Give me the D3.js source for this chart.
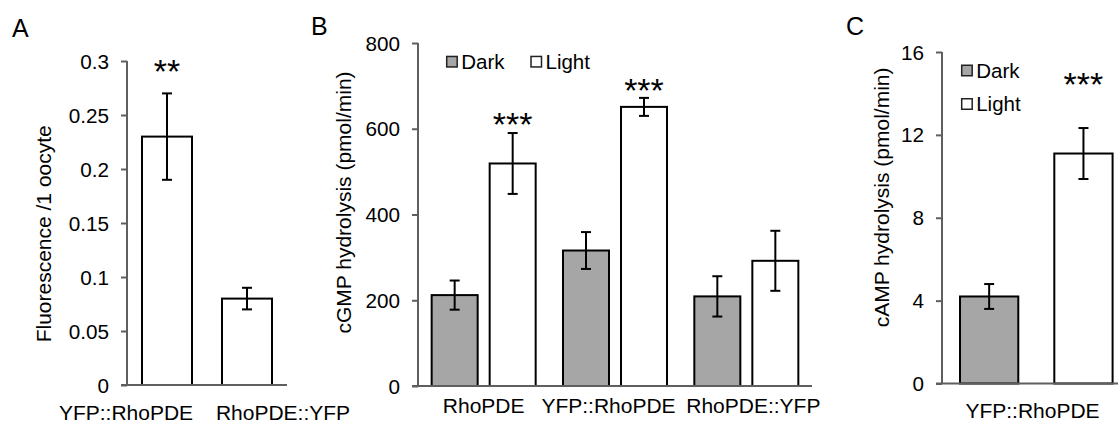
<!DOCTYPE html>
<html>
<head>
<meta charset="utf-8">
<script src="https://cdn.jsdelivr.net/npm/d3@7"></script>
<style>
  html, body { margin: 0; padding: 0; background: #fff; }
  svg { display: block; font-family: "Liberation Sans", Arial, sans-serif; }
</style>
</head>
<body>
<svg id="chart" width="1118" height="428"></svg>
<script>
// ---------------- DATA ----------------
// Panel A
const catsA = ["YFP::RhoPDE", "RhoPDE::YFP"];
const valuesA = [0.23, 0.08];
const errorsA = [0.04, 0.01];
const ticksA = [0, 0.05, 0.1, 0.15, 0.2, 0.25, 0.3];
const starsA = ["**", ""];
const starLevelA = [0.298, null];
const yTitleA = "Fluorescence /1 oocyte";

// Panel B
const catsB = ["RhoPDE", "YFP::RhoPDE", "RhoPDE::YFP"];
const seriesNames = ["Dark", "Light"];
const darkB = [212, 316, 209];
const darkErrB = [34, 43, 47];
const lightB = [519, 651, 292];
const lightErrB = [71, 21, 70];
const ticksB = [0, 200, 400, 600, 800];
const starsB = ["***", "***", ""];
const starLevelB = [629, 708, null];
const yTitleB = "cGMP hydrolysis (pmol/min)";

// Panel C
const catC = "YFP::RhoPDE";
const valuesC = [4.2, 11.1];      // Dark, Light
const errorsC = [0.6, 1.23];
const ticksC = [0, 4, 8, 12, 16];
const starsC = ["", "***"];
const starLevelC = [null, 14.8];
const yTitleC = "cAMP hydrolysis (pmol/min)";

// ---------------- STYLE ----------------
const FILL = { Dark: "#a6a6a6", Light: "#ffffff" };
const AXIS_COLOR = "#5f5f5f";
const FS_TICK = 20.7;
const FS = 21;
const FS_LEG = 20.5;
const STAR_FS = 34;

const svg = d3.select("#chart");

function drawYAxis(g, y, x0, ticks, fmt) {
  const ax = d3.axisLeft(y).tickValues(ticks).tickFormat(fmt)
    .tickSize(6).tickSizeOuter(0).tickPadding(12);
  const a = g.append("g").attr("transform", `translate(${x0},0)`).call(ax);
  a.select(".domain").attr("stroke", AXIS_COLOR).attr("stroke-width", 2)
    .attr("d", `M0,${y.range()[1]}V${y.range()[0]}`);
  a.selectAll(".tick line").attr("stroke", AXIS_COLOR).attr("stroke-width", 2);
  a.selectAll(".tick text").attr("fill", "#000").attr("font-size", FS_TICK)
    .attr("font-family", '"Liberation Sans", Arial, sans-serif').attr("dy", "0.34em");
  return a;
}

function drawXLine(g, xRange, y0) {
  g.append("line").attr("x1", xRange[0] - 6).attr("x2", xRange[1])
    .attr("y1", y0).attr("y2", y0)
    .attr("stroke", AXIS_COLOR).attr("stroke-width", 2);
}

function drawYTitle(g, text, bx, cy) {
  g.append("text").attr("transform", `translate(${bx},${cy}) rotate(-90)`)
    .attr("text-anchor", "middle").attr("font-size", FS).attr("fill", "#000").text(text);
}

function bar(g, x, w, y, v, fill) {
  g.append("rect").attr("x", x).attr("width", w)
    .attr("y", y(v)).attr("height", y(0) - y(v))
    .attr("fill", fill).attr("stroke", "#000").attr("stroke-width", 2);
}

function errBar(g, cx, y, v, e) {
  const c = 5;
  g.append("line").attr("x1", cx).attr("x2", cx).attr("y1", y(v + e)).attr("y2", y(v - e))
    .attr("stroke", "#000").attr("stroke-width", 2);
  [v + e, v - e].forEach(t => {
    g.append("line").attr("x1", cx - c).attr("x2", cx + c).attr("y1", y(t)).attr("y2", y(t))
      .attr("stroke", "#000").attr("stroke-width", 2);
  });
}

function stars(g, cx, y, level, s) {
  if (!s) return;
  g.append("text").attr("x", cx).attr("y", y(level) + 0.575 * STAR_FS)
    .attr("text-anchor", "middle").attr("font-size", STAR_FS).attr("fill", "#000").text(s);
}

function panelLetter(text, x, y) {
  svg.append("text").attr("x", x).attr("y", y).attr("font-size", 25).attr("fill", "#000").text(text);
}

function legendItem(g, x, yc, name) {
  const s = 10.5;
  g.append("rect").attr("x", x).attr("y", yc - s / 2).attr("width", s).attr("height", s)
    .attr("fill", FILL[name]).attr("stroke", "#222").attr("stroke-width", 1.5);
  g.append("text").attr("x", x + s + 4).attr("y", yc).attr("dy", "0.35em")
    .attr("font-size", FS_LEG).attr("fill", "#000").text(name);
}

// ---------------- PANEL A ----------------
{
  const g = svg.append("g");
  const y = d3.scaleLinear().domain([0, 0.3]).range([385, 61]);
  const x = d3.scaleBand().domain(catsA).range([127, 287]).paddingInner(0.375).paddingOuter(0.1875);
  catsA.forEach((c, i) => {
    bar(g, x(c), x.bandwidth(), y, valuesA[i], "#fff");
    errBar(g, x(c) + x.bandwidth() / 2, y, valuesA[i], errorsA[i]);
    stars(g, x(c) + x.bandwidth() / 2, y, starLevelA[i], starsA[i]);
  });
  drawXLine(g, x.range(), y(0));
  drawYAxis(g, y, 127, ticksA, d => d3.format("")(d));
  drawYTitle(g, yTitleA, 51, y(0.14));
  const shiftA = [-41, 36];
  catsA.forEach((c, i) => {
    g.append("text").attr("x", x(c) + x.bandwidth() / 2 + shiftA[i]).attr("y", 420)
      .attr("text-anchor", "middle").attr("font-size", FS).attr("fill", "#000").text(c);
  });
  panelLetter("A", 12, 36.5);
}

// ---------------- PANEL B ----------------
{
  const g = svg.append("g");
  const y = d3.scaleLinear().domain([0, 800]).range([386, 43]);
  const x0 = d3.scaleBand().domain(catsB).range([418, 812]).paddingInner(0.208).paddingOuter(0.104);
  const x1 = d3.scaleBand().domain(seriesNames).range([0, x0.bandwidth()]).paddingInner(0.207);
  const vals = { Dark: darkB, Light: lightB };
  const errs = { Dark: darkErrB, Light: lightErrB };
  catsB.forEach((c, i) => {
    seriesNames.forEach(s => {
      const bx = x0(c) + x1(s);
      bar(g, bx, x1.bandwidth(), y, vals[s][i], FILL[s]);
      errBar(g, bx + x1.bandwidth() / 2, y, vals[s][i], errs[s][i]);
    });
    stars(g, x0(c) + x1("Light") + x1.bandwidth() / 2, y, starLevelB[i], starsB[i]);
  });
  drawXLine(g, x0.range(), y(0));
  drawYAxis(g, y, 418, ticksB, d3.format("d"));
  drawYTitle(g, yTitleB, 351, y(428));
  const shiftB = [0, -6.5, 7];
  catsB.forEach((c, i) => {
    g.append("text").attr("x", x0(c) + x0.bandwidth() / 2 + shiftB[i]).attr("y", 413)
      .attr("text-anchor", "middle").attr("font-size", FS).attr("fill", "#000").text(c);
  });
  legendItem(g, 446.7, 61.7, "Dark");
  legendItem(g, 531, 61.7, "Light");
  panelLetter("B", 311, 35);
}

// ---------------- PANEL C ----------------
{
  const g = svg.append("g");
  const y = d3.scaleLinear().domain([0, 16]).range([383.5, 52]);
  const x = d3.scaleBand().domain(seriesNames).range([942, 1130.6]).paddingInner(0.382).paddingOuter(0.191);
  seriesNames.forEach((s, i) => {
    bar(g, x(s), x.bandwidth(), y, valuesC[i], FILL[s]);
    errBar(g, x(s) + x.bandwidth() / 2, y, valuesC[i], errorsC[i]);
    stars(g, x(s) + x.bandwidth() / 2, y, starLevelC[i], starsC[i]);
  });
  drawXLine(g, x.range(), y(0));
  drawYAxis(g, y, 942, ticksC, d3.format("d"));
  drawYTitle(g, yTitleC, 889, y(8.98));
  const mid = (x.range()[0] + x.range()[1]) / 2;
  g.append("text").attr("x", mid - 3.8).attr("y", 418)
    .attr("text-anchor", "middle").attr("font-size", FS).attr("fill", "#000").text(catC);
  legendItem(g, 961.7, 70.5, "Dark");
  legendItem(g, 961.7, 104, "Light");
  panelLetter("C", 846, 35);
}
</script>
</body>
</html>
